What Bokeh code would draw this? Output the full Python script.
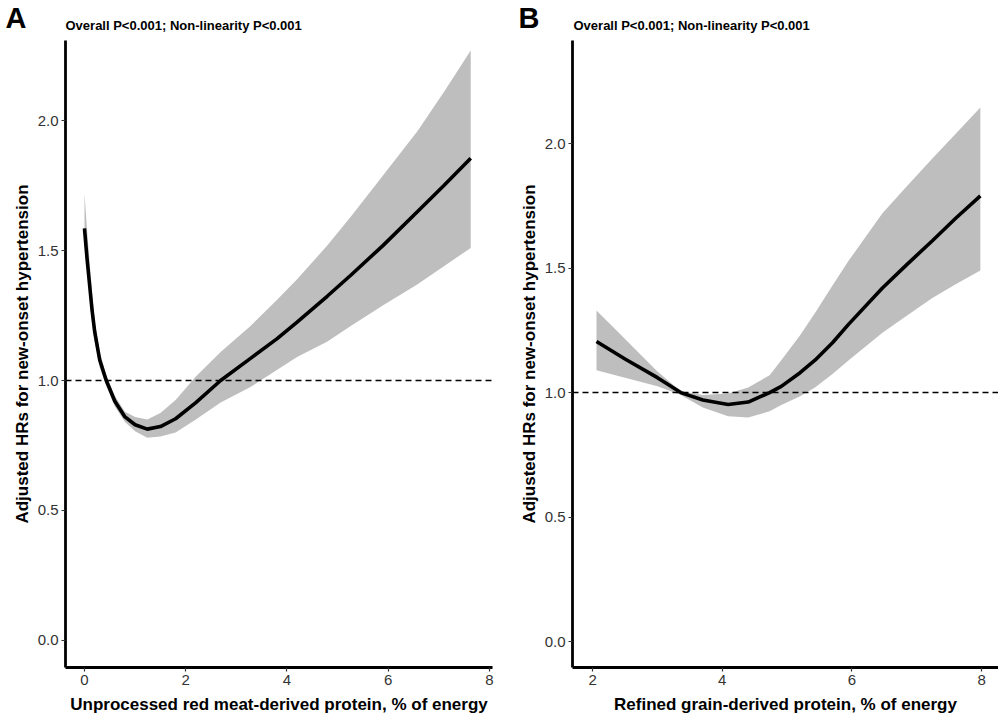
from bokeh.plotting import figure
from bokeh.models import Range1d, FixedTicker, CustomJSTickFormatter
from bokeh.layouts import row, column
from bokeh.core.properties import value
from bokeh.embed import file_html
from bokeh.resources import INLINE

# ---------- data ----------
a_x = [0, 0.05, 0.1, 0.15, 0.2, 0.3, 0.43, 0.6, 0.8, 1.0, 1.24, 1.5, 1.8, 2.2, 2.69, 3.28, 3.8, 4.2, 4.8, 5.26, 5.9, 6.58, 7.1, 7.63]
a_hr = [1.585, 1.47, 1.37, 1.27, 1.19, 1.08, 1.0, 0.92, 0.86, 0.83, 0.813, 0.823, 0.853, 0.915, 1.0, 1.085, 1.16, 1.225, 1.325, 1.405, 1.52, 1.65, 1.75, 1.855]
a_upper = [1.72, 1.58, 1.46, 1.34, 1.23, 1.11, 1.02, 0.94, 0.88, 0.86, 0.85, 0.875, 0.925, 1.015, 1.11, 1.21, 1.31, 1.39, 1.52, 1.63, 1.79, 1.96, 2.11, 2.27]
a_lower = [1.56, 1.43, 1.32, 1.22, 1.15, 1.05, 0.98, 0.9, 0.84, 0.805, 0.78, 0.785, 0.80, 0.85, 0.915, 0.975, 1.04, 1.09, 1.15, 1.21, 1.29, 1.37, 1.44, 1.51]

b_x = [2.06, 2.5, 3.0, 3.36, 3.7, 4.09, 4.4, 4.73, 4.91, 5.2, 5.43, 5.7, 5.95, 6.47, 6.85, 7.24, 7.6, 7.98]
b_hr = [1.205, 1.135, 1.06, 1.0, 0.97, 0.952, 0.962, 1.0, 1.025, 1.08, 1.13, 1.20, 1.275, 1.42, 1.515, 1.61, 1.70, 1.79]
b_upper = [1.33, 1.215, 1.085, 1.005, 0.99, 0.996, 1.02, 1.07, 1.13, 1.23, 1.32, 1.43, 1.53, 1.72, 1.83, 1.94, 2.04, 2.145]
b_lower = [1.09, 1.06, 1.025, 0.99, 0.94, 0.905, 0.90, 0.925, 0.95, 0.985, 1.02, 1.075, 1.13, 1.24, 1.31, 1.38, 1.435, 1.49]

y_ticks = [0.0, 0.5, 1.0, 1.5, 2.0]
a_x_ticks = [0, 2, 4, 6, 8]
b_x_ticks = [2, 4, 6, 8]
reference_hr = 1.0

panel_letters = ["A", "B"]
subtitles = ["Overall P<0.001; Non-linearity P<0.001", "Overall P<0.001; Non-linearity P<0.001"]
y_title = "Adjusted HRs for new-onset hypertension"
a_x_title = "Unprocessed red meat-derived protein, % of energy"
b_x_title = "Refined grain-derived protein, % of energy"

FONT = "Liberation Sans"
BAND = "#bebebe"
PANEL_H = 678
TOP_H = 40
W_A, W_B = 508, 490


def make_panel(xs, hr, lo, up, xticks, xtitle, xr, yr, width, bl, br):
    p = figure(width=width, height=PANEL_H, output_backend="svg", toolbar_location=None,
               x_range=Range1d(*xr), y_range=Range1d(*yr),
               min_border_left=bl, min_border_right=br, min_border_top=0, min_border_bottom=51)
    p.xgrid.visible = False
    p.ygrid.visible = False
    p.outline_line_color = None

    p.varea(x=xs, y1=lo, y2=up, fill_color=BAND, fill_alpha=1.0)
    p.line(x=xs, y=hr, line_color="black", line_width=3.6)
    p.line(x=[xr[0], xr[1]], y=[reference_hr, reference_hr], line_color="black",
           line_width=1.5, line_dash="6 4")

    for ax in (p.xaxis[0], p.yaxis[0]):
        ax.axis_line_width = 2.8
        ax.axis_line_color = "black"
        ax.major_tick_line_color = "#333333"
        ax.major_tick_line_width = 1.2
        ax.major_tick_out = 4
        ax.major_tick_in = 0
        ax.minor_tick_line_color = None
        ax.major_label_text_font = FONT
        ax.major_label_text_font_size = "15px"
        ax.major_label_text_color = "#333333"
        ax.axis_label_text_font = FONT
        ax.axis_label_text_font_size = "17px"
        ax.axis_label_text_font_style = "bold"
        ax.axis_label_text_color = "black"

    p.xaxis[0].ticker = FixedTicker(ticks=xticks)
    p.yaxis[0].ticker = FixedTicker(ticks=y_ticks)
    p.yaxis[0].formatter = CustomJSTickFormatter(code="return tick.toFixed(1);")
    p.xaxis[0].axis_label = xtitle
    p.yaxis[0].axis_label = y_title
    p.xaxis[0].major_label_standoff = 3
    p.xaxis[0].axis_label_standoff = 7
    p.yaxis[0].major_label_standoff = 3
    p.yaxis[0].axis_label_standoff = 3
    return p


pa = make_panel(a_x, a_hr, a_lower, a_upper, a_x_ticks, a_x_title,
                (-0.375, 8.06), (-0.104, 2.308), W_A, 65, 16)
pb = make_panel(b_x, b_hr, b_lower, b_upper, b_x_ticks, b_x_title,
                (1.69, 8.26), (-0.104, 2.414), W_B, 64, 0)

# header strip holding the panel letters and the test p-values
hdr = figure(width=W_A + W_B, height=TOP_H, output_backend="svg", toolbar_location=None,
             x_range=Range1d(0, W_A + W_B), y_range=Range1d(TOP_H, 0),
             x_axis_location=None, y_axis_location=None, min_border=0)
hdr.xgrid.visible = False
hdr.ygrid.visible = False
hdr.outline_line_color = None
hdr.text(x=[5, W_A + 10], y=[17, 17], text=panel_letters, text_font=value(FONT),
         text_font_size="29px", text_font_style="bold", text_color="black",
         text_align="left", text_baseline="middle")
hdr.text(x=[65, W_A + 65], y=[25, 25], text=subtitles, text_font=value(FONT),
         text_font_size="13px", text_font_style="bold", text_color="black",
         text_align="left", text_baseline="middle")

layout = column(hdr, row(pa, pb))
open("out.html", "w").write(file_html(layout, INLINE))
